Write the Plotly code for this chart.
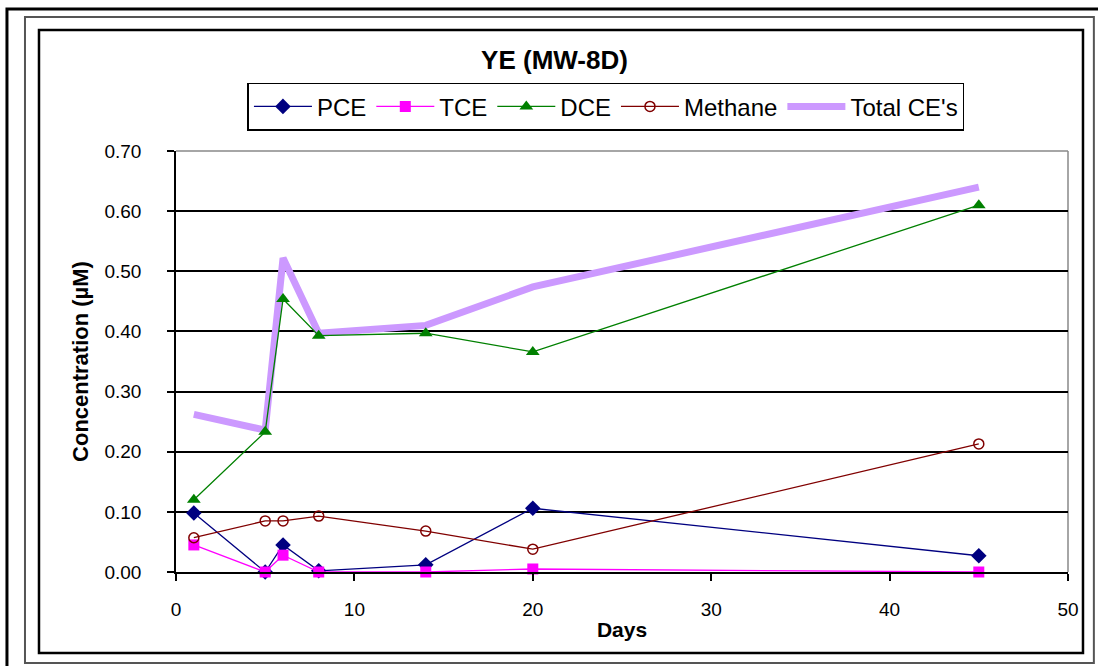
import plotly.graph_objects as go

days = [1, 5, 6, 8, 14, 20, 45]
pce = [0.098, 0.0, 0.045, 0.002, 0.012, 0.106, 0.027]
tce = [0.045, 0.0, 0.028, 0.0, 0.0, 0.005, 0.0]
dce = [0.120, 0.233, 0.454, 0.393, 0.397, 0.366, 0.610]
methane = [0.057, 0.085, 0.085, 0.093, 0.068, 0.038, 0.213]
total_ce = [0.262, 0.236, 0.522, 0.397, 0.410, 0.474, 0.640]

y_ticks = [0.0, 0.1, 0.2, 0.3, 0.4, 0.5, 0.6, 0.7]
x_ticks = [0, 10, 20, 30, 40, 50]

FONT = "Liberation Sans, Arial, sans-serif"

fig = go.Figure()
fig.add_trace(go.Scatter(x=days, y=total_ce, name="Total CE's", mode="lines",
                         line=dict(color="#CC99FF", width=7), cliponaxis=False,
                         legendrank=5))
fig.add_trace(go.Scatter(x=days, y=pce, name="PCE", mode="lines+markers",
                         line=dict(color="#000080", width=1.3), cliponaxis=False,
                         marker=dict(symbol="diamond", size=12, color="#000080"),
                         legendrank=1))
fig.add_trace(go.Scatter(x=days, y=tce, name="TCE", mode="lines+markers",
                         line=dict(color="#FF00FF", width=1.3), cliponaxis=False,
                         marker=dict(symbol="square", size=11, color="#FF00FF"),
                         legendrank=2))
fig.add_trace(go.Scatter(x=days, y=dce, name="DCE", mode="lines+markers",
                         line=dict(color="#008000", width=1.3), cliponaxis=False,
                         marker=dict(symbol="triangle-up", size=12, color="#008000"),
                         legendrank=3))
fig.add_trace(go.Scatter(x=days, y=methane, name="Methane", mode="lines+markers",
                         line=dict(color="#800000", width=1.3), cliponaxis=False,
                         marker=dict(symbol="circle-open", size=10, color="#800000",
                                     line=dict(width=1.5)),
                         legendrank=4))

shapes = [
    dict(type="rect", xref="paper", yref="paper", x0=-0.1895, x1=1.04, y0=-0.24, y1=1.337,
         line=dict(color="black", width=3), fillcolor="rgba(0,0,0,0)", layer="below"),
    dict(type="rect", xref="paper", yref="paper", x0=-0.1693, x1=1.029, y0=-0.216, y1=1.318,
         line=dict(color="#555555", width=2), fillcolor="rgba(0,0,0,0)", layer="below"),
    dict(type="rect", xref="paper", yref="paper", x0=-0.1536, x1=1.0168, y0=-0.1924, y1=1.2874,
         line=dict(color="black", width=2.5), fillcolor="rgba(0,0,0,0)", layer="below"),
    dict(type="line", xref="paper", yref="paper", x0=1, x1=1, y0=0, y1=1,
         line=dict(color="#888888", width=1.5), layer="below"),
    dict(type="line", xref="paper", yref="paper", x0=0, x1=1, y0=1, y1=1,
         line=dict(color="#888888", width=1.5), layer="below"),
]

fig.update_layout(
    width=1098, height=666,
    margin=dict(l=176, r=30, t=151, b=94),
    paper_bgcolor="white", plot_bgcolor="white",
    font=dict(family=FONT, color="black", size=18),
    title=dict(text="<b>YE (MW-8D)</b>", x=0.505, xanchor="center", y=0.91, yanchor="middle",
               font=dict(size=26, family=FONT)),
    legend=dict(orientation="h", x=0.482, xanchor="center", y=1.162, yanchor="top",
                bordercolor="black", borderwidth=1.5, font=dict(size=24, family=FONT),
                itemwidth=58, tracegroupgap=0),
    shapes=shapes,
    xaxis=dict(range=[0, 50], tickvals=x_ticks, ticks="outside", ticklen=7, tickcolor="black",
               tickwidth=1.5, showgrid=False, zeroline=False, showline=True,
               linecolor="black", linewidth=2,
               ticklabelstandoff=12,
               title=dict(text="<b>Days</b>", font=dict(size=21), standoff=4),
               tickfont=dict(size=19)),
    yaxis=dict(range=[0, 0.7], tickvals=y_ticks, tickformat=".2f", ticks="outside", ticklen=7,
               tickcolor="black", tickwidth=1.5, showgrid=True, gridcolor="black", gridwidth=1.5,
               zeroline=False, showline=True, linecolor="black", linewidth=1.5,
               ticklabelstandoff=22,
               title=dict(text="<b>Concentration (µM)</b>", font=dict(size=22), standoff=10),
               tickfont=dict(size=19)),
)

fig.write_html("out.html", config={"displayModeBar": False},
               post_script="document.body.style.margin='0';")
